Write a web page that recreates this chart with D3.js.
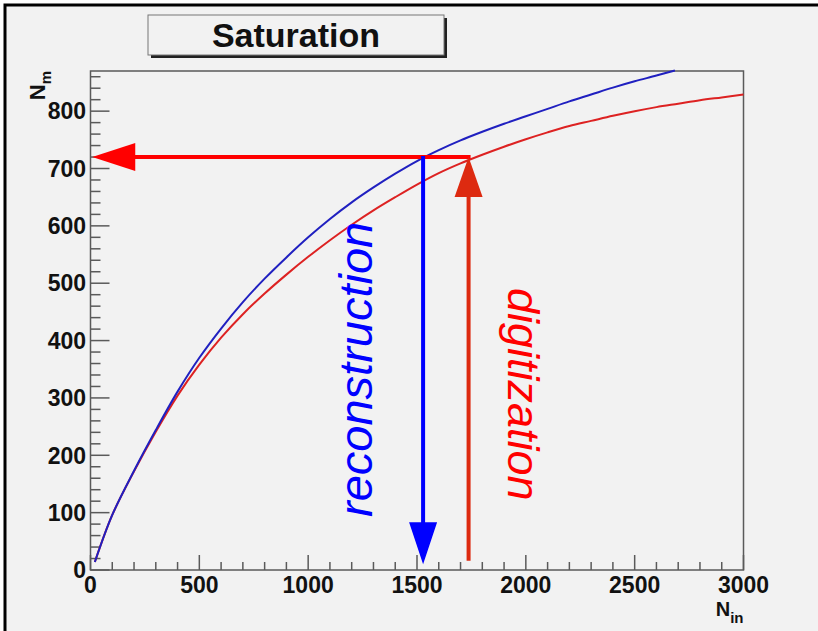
<!DOCTYPE html>
<html>
<head>
<meta charset="utf-8">
<script src="https://cdn.jsdelivr.net/npm/d3@7"></script>
<style>
  html, body { margin: 0; padding: 0; background: #ffffff; }
  svg { display: block; }
  text { font-family: "Liberation Sans", Arial, Helvetica, sans-serif; }
</style>
</head>
<body>
<div id="chart"></div>
<script>
// values
const recoNin = [20, 100, 200, 300, 400, 500, 600, 700, 800, 900, 1000, 1100, 1200, 1300, 1400,
  1500, 1600, 1700, 1800, 1900, 2000, 2100, 2200, 2300, 2400, 2500, 2600, 2685];
const recoNm = [14, 96, 173, 244, 311, 370, 421, 467, 508, 545, 580, 612, 641, 667, 691,
  713, 732, 749, 764, 778, 791, 804, 817, 829, 841, 852, 862, 871];

const digiNin = [20, 100, 200, 300, 400, 500, 600, 700, 800, 900, 1000, 1100, 1200, 1300, 1400,
  1500, 1600, 1700, 1800, 1900, 2000, 2100, 2200, 2300, 2400, 2500, 2600, 2700, 2800, 2900, 3000];
const digiNm = [14, 96, 172, 241, 304, 358, 405, 446, 482, 515, 546, 575, 602, 627, 650,
  672, 692, 709, 724, 738, 751, 763, 774, 783, 792, 800, 807, 813, 819, 824, 829];

const xTicks = [0, 500, 1000, 1500, 2000, 2500, 3000];
const yTicks = [0, 100, 200, 300, 400, 500, 600, 700, 800];

// the arrows
const levelNm = 720;      // horizontal arrow height
const recoArrowNin = 1528;
const digiArrowNin = 1737;
const arrowBottomNm = 16;

const W = 818, H = 631;
const margin = { left: 90.5, right: 743.5, top: 71, bottom: 570 };

const svg = d3.select('#chart').append('svg')
  .attr('width', W)
  .attr('height', H);

// canvas background + black border (left/top visible)
svg.append('rect')
  .attr('x', 5).attr('y', 5)
  .attr('width', W + 10).attr('height', H + 10)
  .attr('fill', '#f2f2f2')
  .attr('stroke', '#000')
  .attr('stroke-width', 3);

const x = d3.scaleLinear().domain([0, 3000]).range([margin.left, margin.right]);
const y = d3.scaleLinear().domain([0, 870]).range([margin.bottom, margin.top]);

// frame
svg.append('rect')
  .attr('x', margin.left).attr('y', margin.top)
  .attr('width', margin.right - margin.left)
  .attr('height', margin.bottom - margin.top)
  .attr('fill', 'none')
  .attr('stroke', '#5a5a5a')
  .attr('stroke-width', 1.5);

// x ticks
const xMinor = d3.range(0, 3001, 100);
svg.append('g').selectAll('line')
  .data(xMinor)
  .join('line')
    .attr('x1', d => x(d)).attr('x2', d => x(d))
    .attr('y1', margin.bottom)
    .attr('y2', d => margin.bottom - (d % 500 === 0 ? 15 : 8))
    .attr('stroke', '#5a5a5a')
    .attr('stroke-width', 1.5);

svg.append('g').selectAll('text')
  .data(xTicks)
  .join('text')
    .attr('x', d => x(d))
    .attr('y', 593)
    .attr('text-anchor', 'middle')
    .attr('font-weight', 'bold')
    .attr('font-size', 23)
    .attr('fill', '#111')
    .text(d => d);

// y ticks
const yMinor = d3.range(0, 861, 20);
svg.append('g').selectAll('line')
  .data(yMinor)
  .join('line')
    .attr('y1', d => y(d)).attr('y2', d => y(d))
    .attr('x1', margin.left)
    .attr('x2', d => margin.left + (d % 100 === 0 ? 19 : 10))
    .attr('stroke', '#5a5a5a')
    .attr('stroke-width', 1.5);

svg.append('g').selectAll('text')
  .data(yTicks)
  .join('text')
    .attr('x', 86)
    .attr('y', d => y(d))
    .attr('dy', '0.36em')
    .attr('text-anchor', 'end')
    .attr('font-weight', 'bold')
    .attr('font-size', 23)
    .attr('fill', '#111')
    .text(d => d);

// axis titles
const xTitle = svg.append('text')
  .attr('x', margin.right)
  .attr('y', 616)
  .attr('text-anchor', 'end')
  .attr('font-weight', 'bold')
  .attr('font-size', 20)
  .attr('fill', '#111');
xTitle.append('tspan').text('N');
xTitle.append('tspan').attr('font-size', 15).attr('dy', 7).text('in');

const yTitle = svg.append('text')
  .attr('transform', `translate(45,${margin.top}) rotate(-90)`)
  .attr('text-anchor', 'end')
  .attr('font-weight', 'bold')
  .attr('font-size', 22)
  .attr('fill', '#111');
yTitle.append('tspan').text('N');
yTitle.append('tspan').attr('font-size', 15).attr('dy', 6).text('m');

// curves
const line = d3.line()
  .x(d => x(d[0]))
  .y(d => y(d[1]))
  .curve(d3.curveCatmullRom);

svg.append('path')
  .datum(digiNin.map((d, i) => [d, digiNm[i]]))
  .attr('d', line)
  .attr('fill', 'none')
  .attr('stroke', '#dd2222')
  .attr('stroke-width', 2);

svg.append('path')
  .datum(recoNin.map((d, i) => [d, recoNm[i]]))
  .attr('d', line)
  .attr('fill', 'none')
  .attr('stroke', '#2020c0')
  .attr('stroke-width', 2);

// arrows
const headLen = 40, headHalf = 14;

// horizontal red arrow (to the y axis)
const hy = y(levelNm);
const hTip = x(8);
svg.append('line')
  .attr('x1', hTip + headLen).attr('x2', x(digiArrowNin) + 2)
  .attr('y1', hy).attr('y2', hy)
  .attr('stroke', '#ff0000')
  .attr('stroke-width', 4);
svg.append('path')
  .attr('d', `M${hTip},${hy} L${hTip + headLen + 3},${hy - headHalf} L${hTip + headLen + 3},${hy + headHalf} Z`)
  .attr('fill', '#ff0000');

// vertical red (digitization) arrow pointing up
const dx = x(digiArrowNin);
svg.append('line')
  .attr('x1', dx).attr('x2', dx)
  .attr('y1', y(arrowBottomNm)).attr('y2', hy + headLen - 2)
  .attr('stroke', '#dd2a10')
  .attr('stroke-width', 4);
svg.append('path')
  .attr('d', `M${dx},${hy} L${dx - headHalf},${hy + headLen} L${dx + headHalf},${hy + headLen} Z`)
  .attr('fill', '#dd2a10');

// vertical blue (reconstruction) arrow pointing down
const rx = x(recoArrowNin);
const rTip = y(10);
svg.append('line')
  .attr('x1', rx).attr('x2', rx)
  .attr('y1', hy - 1).attr('y2', rTip - headLen + 2)
  .attr('stroke', '#0000ff')
  .attr('stroke-width', 4);
svg.append('path')
  .attr('d', `M${rx},${rTip} L${rx - headHalf},${rTip - headLen - 2} L${rx + headHalf},${rTip - headLen - 2} Z`)
  .attr('fill', '#0000ff');

// labels along the arrows
svg.append('text')
  .attr('transform', 'translate(372,517) rotate(-90)')
  .attr('font-style', 'italic')
  .attr('font-size', 47)
  .attr('fill', '#0000ff')
  .text('reconstruction');

svg.append('text')
  .attr('transform', 'translate(508,288) rotate(90)')
  .attr('font-style', 'italic')
  .attr('font-size', 45)
  .attr('fill', '#ff0000')
  .text('digitization');

// title box
svg.append('rect')
  .attr('x', 151).attr('y', 18)
  .attr('width', 296).attr('height', 40)
  .attr('fill', '#222');
svg.append('rect')
  .attr('x', 148).attr('y', 15)
  .attr('width', 296).attr('height', 40)
  .attr('fill', '#f2f2f2')
  .attr('stroke', '#777')
  .attr('stroke-width', 1);
svg.append('text')
  .attr('x', 296)
  .attr('y', 47)
  .attr('text-anchor', 'middle')
  .attr('font-weight', 'bold')
  .attr('font-size', 34)
  .attr('fill', '#111')
  .text('Saturation');
</script>
</body>
</html>
